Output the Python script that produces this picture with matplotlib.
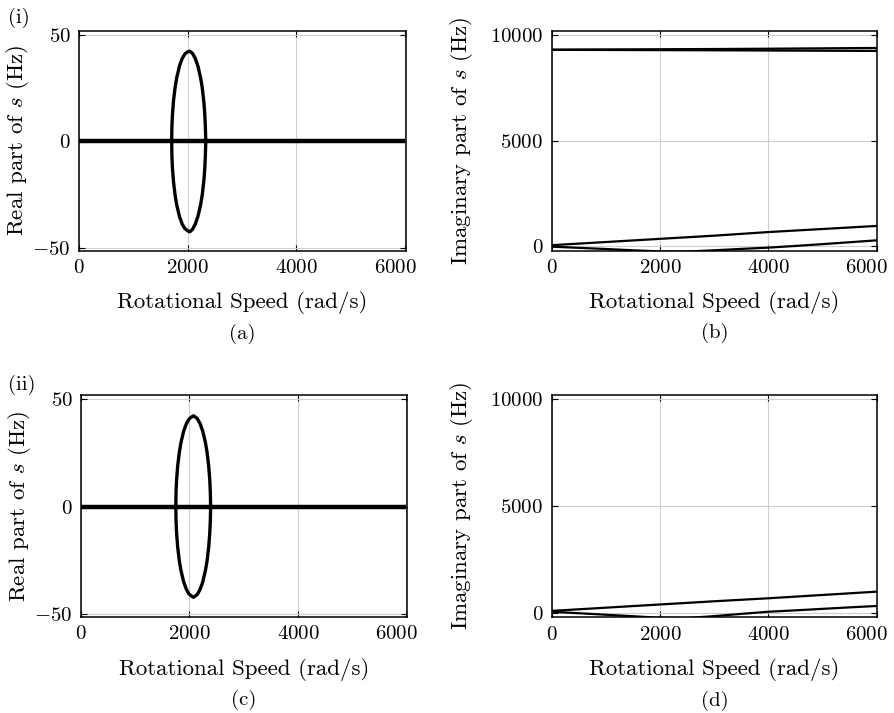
import numpy as np
import matplotlib
matplotlib.use('Agg')
import matplotlib.pyplot as plt
import matplotlib.transforms as mtransforms

plt.rcParams['font.family'] = 'cmr10'
plt.rcParams['mathtext.fontset'] = 'cm'
plt.rcParams['axes.unicode_minus'] = False
plt.rcParams['axes.formatter.use_mathtext'] = True

# (a) real part, case (i)
zero_speed = [0, 6000]
zero_real = [0, 0]
ell_a_x = [1706, 1710, 1720, 1740, 1770, 1800, 1850, 1900, 1950, 2000, 2040,
           2090, 2140, 2190, 2240, 2270, 2300, 2315, 2325, 2334]
ell_a_up = [0, 6.8, 12.5, 19.1, 25.5, 30.0, 35.4, 38.9, 41.0, 42.0, 42.3,
            41.2, 38.9, 35.2, 29.6, 24.9, 18.0, 12.9, 7.5, 0]
ell_a_lo = [0, -6.8, -12.5, -19.1, -25.5, -30.0, -35.4, -38.9, -41.0, -42.0, -42.5,
            -41.3, -38.9, -35.2, -29.6, -24.9, -18.0, -12.9, -7.5, 0]

# (c) real part, case (ii)
ell_c_x = [1748, 1752, 1762, 1782, 1812, 1842, 1892, 1942, 1992, 2040, 2075,
           2144, 2194, 2244, 2294, 2324, 2354, 2374, 2384, 2390]
ell_c_up = [0, 6.6, 12.3, 18.8, 25.2, 29.7, 35.1, 38.6, 40.8, 41.8, 42.3,
            41.0, 38.7, 35.2, 29.8, 25.3, 18.9, 12.4, 6.7, 0]
ell_c_lo = [0, -6.6, -12.3, -18.8, -25.2, -29.7, -35.1, -38.6, -40.8, -41.8, -42.3,
            -41.0, -38.7, -35.2, -29.8, -25.3, -18.9, -12.4, -6.7, 0]

# (b) imaginary part, case (i)
speed_coarse = [0, 1000, 2000, 3000, 4000, 5000, 6000]
imag_b_hi1 = [9295, 9305, 9315, 9325, 9340, 9358, 9375]
imag_b_hi2 = [9285, 9280, 9272, 9265, 9255, 9245, 9235]
imag_b_lo1 = [60, 210, 360, 510, 680, 825, 970]
speed_fine = [0, 500, 1000, 1500, 2000, 2500, 3000, 3500, 4000, 4500, 5000, 5500, 6000]
imag_b_lo2 = [-10, -65, -120, -180, -235, -240, -180, -115, -55, 25, 110, 200, 290]

# (d) imaginary part, case (ii)
imag_d_lo1 = [100, 250, 400, 550, 690, 845, 1000]
imag_d_lo2 = [60, -10, -80, -150, -225, -235, -145, -40, 60, 125, 195, 265, 330]

x_ticks = [0, 2000, 4000, 6000]

fig = plt.figure(figsize=(8.94, 7.13), dpi=100)
W, H = 894, 713


def make_ax(l, t, r, b):
    return fig.add_axes([l / W, 1 - b / H, (r - l) / W, (b - t) / H])


ax_a = make_ax(79, 30.5, 405.5, 251)
ax_b = make_ax(551.7, 30.5, 877.3, 250.7)
ax_c = make_ax(81, 395, 407, 617)
ax_d = make_ax(551.7, 395, 877.3, 617.3)

lc = 'black'
fs_lab = 16.5
fs_tick = 15

for ax, ex, eu, el in [(ax_a, ell_a_x, ell_a_up, ell_a_lo),
                       (ax_c, ell_c_x, ell_c_up, ell_c_lo)]:
    ax.plot(zero_speed, zero_real, color=lc, lw=3.2, solid_capstyle='butt')
    ax.plot(ex, eu, color=lc, lw=2.4)
    ax.plot(ex, el, color=lc, lw=2.4)
    ax.set_xlim(0, 6010)
    ax.set_ylim(-51.5, 52)
    ax.set_yticks([-50, 0, 50])
    ax.set_ylabel('Real part of $s$ (Hz)', fontsize=fs_lab)

ax_b.plot(speed_coarse, imag_b_hi1, color=lc, lw=1.6)
ax_b.plot(speed_coarse, imag_b_hi2, color=lc, lw=1.6)
ax_b.plot(speed_coarse, imag_b_lo1, color=lc, lw=1.6)
ax_b.plot(speed_fine, imag_b_lo2, color=lc, lw=1.6)
ax_d.plot(speed_coarse, imag_d_lo1, color=lc, lw=1.6)
ax_d.plot(speed_fine, imag_d_lo2, color=lc, lw=1.6)
for ax in (ax_b, ax_d):
    ax.set_xlim(0, 6010)
    ax.set_ylim(-200, 10200)
    ax.set_yticks([0, 5000, 10000])
    ax.set_ylabel('Imaginary part of $s$ (Hz)', fontsize=fs_lab)

shift_left = mtransforms.ScaledTranslation(-10 / 100, 0, fig.dpi_scale_trans)
for ax, lab in [(ax_a, '(a)'), (ax_b, '(b)'), (ax_c, '(c)'), (ax_d, '(d)')]:
    ax.set_xticks(x_ticks)
    ax.grid(True, color='#cfcfcf', lw=0.8)
    ax.set_axisbelow(True)
    ax.tick_params(direction='in', top=True, right=True, length=4, width=0.8,
                   labelsize=fs_tick, pad=6)
    for s in ax.spines.values():
        s.set_linewidth(1.1)
    ax.set_xlabel('Rotational Speed (rad/s)', fontsize=fs_lab)
    ax.xaxis.label.set_verticalalignment('center')
    ax.xaxis.set_label_coords(0.5, -0.235)
    ax.text(0.5, -0.375, lab, transform=ax.transAxes, ha='center', va='center',
            fontsize=fs_tick)
    # last tick label sits a bit left of its tick, as in the original
    last = ax.xaxis.get_major_ticks()[-1].label1
    last.set_transform(last.get_transform() + shift_left)

ax_a.yaxis.set_label_coords(-0.188, 0.5)
ax_c.yaxis.set_label_coords(-0.19, 0.5)
ax_b.yaxis.set_label_coords(-0.277, 0.5)
ax_d.yaxis.set_label_coords(-0.277, 0.5)
for ax in (ax_a, ax_b, ax_c, ax_d):
    ax.yaxis.label.set_verticalalignment('center')

fig.text(8 / W, 1 - 18 / H, '(i)', ha='left', va='center', fontsize=fs_tick)
fig.text(8 / W, 1 - 385 / H, '(ii)', ha='left', va='center', fontsize=fs_tick)

fig.savefig('out.png', dpi=100)
